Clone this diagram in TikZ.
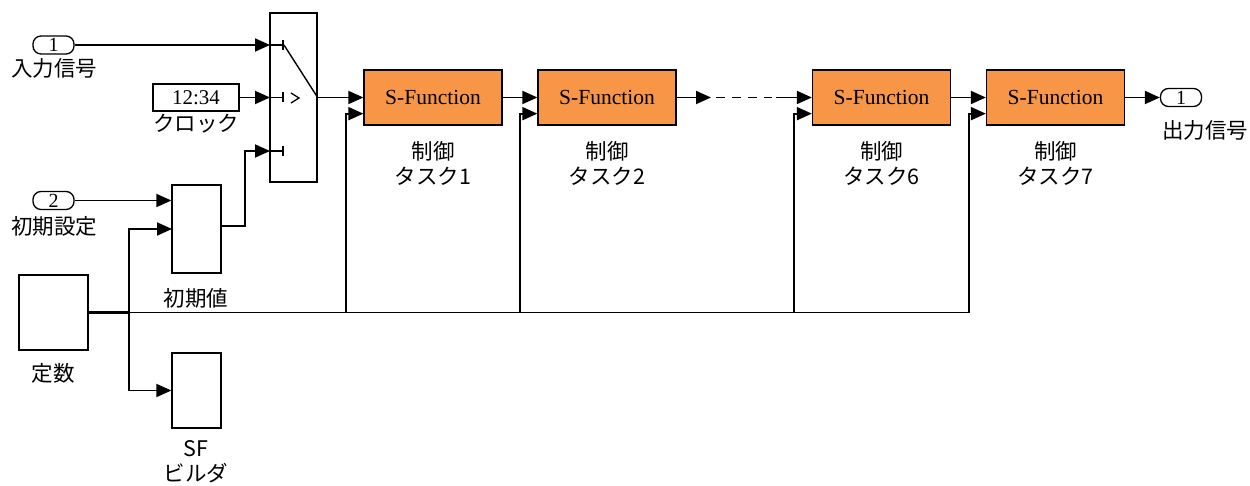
\documentclass[tikz,border=0pt]{standalone}
\usepackage{fontspec}
\setmainfont{Liberation Serif}
\newfontfamily\jp{Noto Sans CJK JP}
\usetikzlibrary{arrows.meta}
\definecolor{sforange}{HTML}{F79646}
\begin{document}
\begin{tikzpicture}[x=1pt,y=-1pt,
  blk/.style={draw,line width=1.3pt,inner sep=0pt},
  sfun/.style={blk,fill=sforange,minimum width=138pt,minimum height=55pt,font=\fontsize{21.5}{24}\selectfont},
  port/.style={draw,line width=1.3pt,rounded corners=8pt,minimum width=41pt,minimum height=18pt,inner sep=0pt,font=\fontsize{20}{20}\selectfont},
  lbl/.style={font=\jp\fontsize{21.5}{25}\selectfont,align=center,inner sep=0pt},
  wire/.style={line width=1.9pt},
  arr/.style={wire,-{Triangle[length=15pt,width=13pt]}},
]
\useasboundingbox (0,0) rectangle (1250,486);

% ports
\node[port] (in1) at (53.5,45) {1};
\node[lbl] (in1l) at (54,68) {入力信号};
\node[port] (in2) at (53.5,200.5) {2};
\node[lbl] (in2l) at (54,226) {初期設定};
\node[port] (out1) at (1181,97.5) {1};
\node[lbl] (out1l) at (1205,130) {出力信号};

% clock
\node[blk,minimum width=86pt,minimum height=27pt,font=\fontsize{21}{24}\selectfont] (clk) at (196,97.5) {12:34};
\node[lbl] (clkl) at (196,124) {クロック};

% switch
\node[blk,minimum width=47pt,minimum height=169pt] (sw) at (293.5,97.5) {};
\coordinate (swA) at (270,45);
\coordinate (swB) at (270,97.5);
\coordinate (swC) at (270,151);

% plain blocks
\node[blk,minimum width=49pt,minimum height=88pt] (init) at (196.5,229) {};
\node[lbl] (initl) at (196,298) {初期値};
\node[blk,minimum width=69pt,minimum height=75pt] (const) at (53.5,312.5) {};
\node[lbl] (constl) at (53,373) {定数};
\node[blk,minimum width=49pt,minimum height=75pt] (sfb) at (196.5,390.5) {};
\node[lbl] (sfbl) at (196,462) {SF\\ビルダ};

% S-Function blocks
\node[sfun] (sf1) at (433,97.5) {S-Function};
\node[sfun] (sf2) at (607,97.5) {S-Function};
\node[sfun] (sf6) at (881.5,97.5) {S-Function};
\node[sfun] (sf7) at (1055.5,97.5) {S-Function};
\node[lbl] (sf1l) at (433,163) {制御\\タスク1};
\node[lbl] (sf2l) at (607,163) {制御\\タスク2};
\node[lbl] (sf6l) at (881.5,163) {制御\\タスク6};
\node[lbl] (sf7l) at (1055.5,163) {制御\\タスク7};

% switch internals
\foreach \p in {swA,swB,swC}{
  \draw[line width=1.4pt] (\p) -- ++(13,0) ++(0,-5) -- ++(0,10);
}
\draw[line width=1.4pt] (284,45) -- (sw.east);
\draw[line width=1.3pt] (291,93) -- (299,98) -- (291,103);

% signal wires
\draw[arr] (in1.east) -- (swA);
\draw[arr] (clk.east) -- (swB);
\coordinate (initout) at (221,226);
\coordinate (jog) at (245,151);
\draw[arr] (initout) -| (jog) -- (swC);
\draw[arr] (in2.east) -- (in2.east -| init.west);

\coordinate (br) at (129,312.5);
\draw[line width=2.6pt] (const.east) -- (br);
\draw[arr] (br) |- (172,229);
\draw[arr] (br) |- (sfb.west);
\draw[wire] (br) -- (969,312.5);

\draw[arr] (sw.east) -- (sf1.west);
\draw[arr] (sf1.east) -- (sf2.west);
\coordinate (gapA) at (711,97.5);
\coordinate (gapB) at (776,97.5);
\draw[arr] (sf2.east) -- (gapA);
\draw[wire,dash pattern=on 9pt off 7pt] (716,97.5) -- (772,97.5);
\draw[arr] (gapB) -- (sf6.west);
\draw[arr] (sf6.east) -- (sf7.west);
\draw[arr] (sf7.east) -- (out1.west);

% constant feed into each task
\foreach \b/\x in {sf1/346,sf2/520,sf6/794,sf7/969}{
  \draw[arr] (\x,312.5) |- ([yshift=12pt]\b.south west);
}
\end{tikzpicture}
\end{document}
